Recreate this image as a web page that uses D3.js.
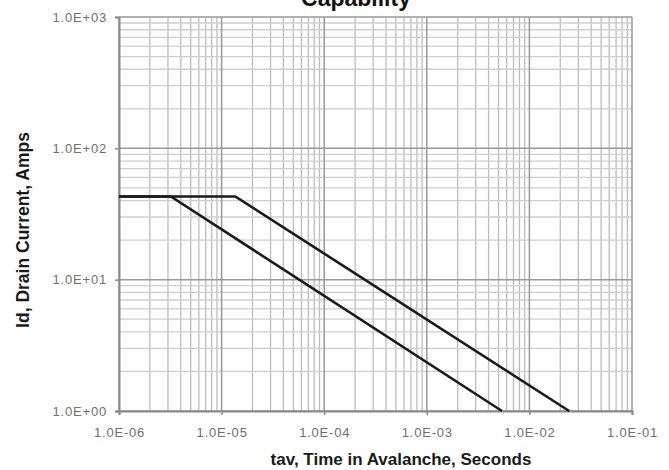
<!DOCTYPE html>
<html><head><meta charset="utf-8">
<script src="https://cdn.jsdelivr.net/npm/d3@7"></script>
<style>body{margin:0;background:#fff}svg{display:block}</style>
</head><body>
<script>
const titleText = "Capability";
const xTitle = "tav, Time in Avalanche, Seconds";
const yTitle = "Id, Drain Current, Amps";
const xTickValues = [1e-6, 1e-5, 1e-4, 1e-3, 1e-2, 1e-1];
const xTickLabels = ["1.0E-06", "1.0E-05", "1.0E-04", "1.0E-03", "1.0E-02", "1.0E-01"];
const yTickValues = [1, 10, 100, 1000];
const yTickLabels = ["1.0E+00", "1.0E+01", "1.0E+02", "1.0E+03"];
// series: time (s) and current (A)
const lowTime = [1e-6, 3.2e-6, 5.4e-3];
const lowId = [43, 43, 1];
const highTime = [1e-6, 1.36e-5, 2.44e-2];
const highId = [43, 43, 1];

const W = 669, H = 470;
const m = {left: 119, right: 632, top: 17, bottom: 411};
const FONT = "Liberation Sans, Arial, sans-serif";
const svg = d3.select("body").append("svg").attr("width", W).attr("height", H);
const x = d3.scaleLog().domain([1e-6, 1e-1]).range([m.left, m.right]);
const y = d3.scaleLog().domain([1, 1000]).range([m.bottom, m.top]);

// minor grid
const minorX = [], minorY = [];
for (let e = -6; e < -1; e++) for (let k = 2; k <= 9; k++) minorX.push(k * Math.pow(10, e));
for (let e = 0; e < 3; e++) for (let k = 2; k <= 9; k++) minorY.push(k * Math.pow(10, e));
const g = svg.append("g");
g.selectAll(".mx").data(minorX).enter().append("line")
  .attr("x1", d => x(d)).attr("x2", d => x(d)).attr("y1", m.top).attr("y2", m.bottom)
  .attr("stroke", "#bdbdbd").attr("stroke-width", 1.3);
g.selectAll(".my").data(minorY).enter().append("line")
  .attr("y1", d => y(d)).attr("y2", d => y(d)).attr("x1", m.left).attr("x2", m.right)
  .attr("stroke", "#cfcfcf").attr("stroke-width", 1.3);
g.selectAll(".Mx").data(xTickValues).enter().append("line")
  .attr("x1", d => x(d)).attr("x2", d => x(d)).attr("y1", m.top).attr("y2", m.bottom)
  .attr("stroke", "#999").attr("stroke-width", 1.5);
g.selectAll(".My").data(yTickValues).enter().append("line")
  .attr("y1", d => y(d)).attr("y2", d => y(d)).attr("x1", m.left).attr("x2", m.right)
  .attr("stroke", "#999").attr("stroke-width", 1.5);

// axes
const xAxis = d3.axisBottom(x).tickValues(xTickValues).tickFormat((d, i) => xTickLabels[i]).tickSize(4).tickPadding(13);
const yAxis = d3.axisLeft(y).tickValues(yTickValues).tickFormat((d, i) => yTickLabels[i]).tickSize(4).tickPadding(8);
const xa = svg.append("g").attr("transform", `translate(0,${m.bottom})`).call(xAxis);
const ya = svg.append("g").attr("transform", `translate(${m.left},0)`).call(yAxis);
[xa, ya].forEach(a => {
  a.select(".domain").attr("stroke", "#8a8a8a").attr("stroke-width", 2);
  a.selectAll(".tick line").attr("stroke", "#8a8a8a").attr("stroke-width", 1.5);
  a.selectAll("text").attr("fill", "#707070").style("font-family", FONT)
    .style("font-size", "13px").style("letter-spacing", "0.8px");
});

// lines
const line = d3.line().x(d => x(d[0])).y(d => y(d[1]));
[[lowTime, lowId], [highTime, highId]].forEach(([t, v]) => {
  svg.append("path").datum(t.map((d, i) => [d, v[i]])).attr("d", line)
    .attr("fill", "none").attr("stroke", "#1a1a1a").attr("stroke-width", 2.6);
});

// titles
svg.append("text").attr("x", 356).attr("y", 6).attr("text-anchor", "middle")
  .style("font-family", FONT).style("font-weight", "bold").style("font-size", "23px")
  .attr("fill", "#111").text(titleText);
svg.append("text").attr("x", 401).attr("y", 465).attr("text-anchor", "middle")
  .style("font-family", FONT).style("font-weight", "bold").style("font-size", "17px")
  .attr("fill", "#1a1a1a").text(xTitle);
svg.append("text").attr("transform", "translate(29,230) rotate(-90)").attr("text-anchor", "middle")
  .style("font-family", FONT).style("font-weight", "bold").style("font-size", "17.5px")
  .attr("fill", "#1a1a1a").text(yTitle);
</script>
</body></html>
